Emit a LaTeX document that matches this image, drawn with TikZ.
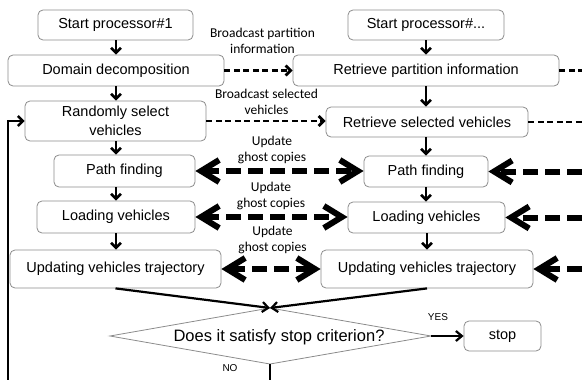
\documentclass[tikz,border=0pt]{standalone}
\usepackage{fontspec}
\setmainfont{Liberation Sans}
\newfontfamily\lblfont{Carlito}
\usetikzlibrary{arrows.meta}

\begin{document}
\begin{tikzpicture}[x=1pt,y=-1pt,
  box/.style={draw=black!45, line width=0.8pt, rounded corners=5pt, inner sep=0pt,
    font=\fontsize{14.5}{19}\selectfont, align=center},
  flow/.style={line width=2.6pt, -{Straight Barb[length=5pt,width=10pt]}},
  merge/.style={line width=2.2pt, -{Straight Barb[length=6pt,width=10pt]}},
  bcast/.style={line width=2.8pt, dash pattern=on 6pt off 3.5pt, -{Straight Barb[length=5pt,width=10pt]}},
  bcastout/.style={line width=2.8pt, dash pattern=on 6pt off 3.5pt},
  ghost/.style={line width=6pt, dash pattern=on 15pt off 7pt,
    {Straight Barb[length=18pt,width=22pt]}-{Straight Barb[length=18pt,width=22pt]}},
  ghostin/.style={line width=6pt, dash pattern=on 15pt off 7pt, -{Straight Barb[length=18pt,width=22pt]}},
  lbl/.style={font=\lblfont\fontsize{13.5}{16.5}\selectfont, align=center, inner sep=0pt},
  yn/.style={font=\fontsize{10}{12}\selectfont, inner sep=0pt},
]
\useasboundingbox (0,0) rectangle (582,380);
\clip (0,0) rectangle (582,380);

% processor #1
\node[box, minimum width=155pt, minimum height=30pt] (startL) at (115.5,25) {Start processor\#1};
\node[box, minimum width=216pt, minimum height=31pt] (domL) at (116,70.5) {Domain decomposition};
\node[box, minimum width=181pt, minimum height=40pt] (randL) at (115.5,121) {Randomly select\\vehicles};
\node[box, minimum width=141pt, minimum height=32pt] (pathL) at (124.5,171) {Path finding};
\node[box, minimum width=158pt, minimum height=32pt] (loadL) at (116,217) {Loading vehicles};
\node[box, minimum width=211pt, minimum height=38pt] (updL) at (115.5,269) {Updating vehicles trajectory};

% processor #...
\node[box, minimum width=156pt, minimum height=30pt] (startR) at (426,25) {Start processor\#...};
\node[box, minimum width=266pt, minimum height=31pt] (retR) at (426,70.5) {Retrieve partition information};
\node[box, minimum width=202pt, minimum height=30pt] (selR) at (427,122) {Retrieve selected vehicles};
\node[box, minimum width=124pt, minimum height=31pt] (pathR) at (426,171.5) {Path finding};
\node[box, minimum width=157pt, minimum height=31pt] (loadR) at (426.5,217.5) {Loading vehicles};
\node[box, minimum width=212pt, minimum height=38pt] (updR) at (427,269) {Updating vehicles trajectory};

\node[box, minimum width=77pt, minimum height=30pt] (stop) at (502.5,336) {stop};

% decision
\coordinate (diaN) at (270,308);
\coordinate (diaE) at (431,336);
\coordinate (diaS) at (270,364);
\coordinate (diaW) at (110,336);
\draw[black!45, line width=0.8pt] (diaN) -- (diaE) -- (diaS) -- (diaW) -- cycle;
\node[inner sep=0pt, font=\fontsize{16.5}{19}\selectfont] (dia) at (279,337) {Does it satisfy stop criterion?};

% vertical flow, processor #1
\draw[flow] (startL.south -| 116,0) -- (domL.north -| 116,0);
\draw[flow] (domL.south) -- (randL.north -| domL.south);
\draw[flow] (randL.south -| 116,0) -- (pathL.north -| 116,0);
\draw[flow] (pathL.south -| loadL.north) -- (loadL.north);
\draw[flow] (loadL.south) -- (updL.north -| loadL.south);

% vertical flow, processor #...
\draw[flow] (startR.south) -- (retR.north);
\draw[flow] (retR.south) -- (selR.north -| retR.south);
\draw[flow] (selR.south -| pathR.north) -- (pathR.north);
\draw[flow] (pathR.south) -- (loadR.north -| pathR.south);
\draw[flow] (loadR.south -| updR.north) -- (updR.north);

% broadcasts
\draw[bcast] (domL.east) -- (retR.west);
\draw[bcast] (randL.east) -- (randL.east -| selR.west);
\coordinate (outA) at (600,70.5);
\coordinate (outB) at (600,122);
\draw[bcastout] (retR.east) -- (outA);
\draw[bcastout] (selR.east) -- (outB);
\node[lbl] (lblA) at (262.5,41) {Broadcast partition\\information};
\node[lbl] (lblB) at (266.5,102) {Broadcast selected\\vehicles};

% ghost-copy exchanges
\draw[ghost] (pathL.east) -- (pathL.east -| pathR.west);
\draw[ghost] (loadL.east) -- (loadL.east -| loadR.west);
\draw[ghost] (updL.east) -- (updR.west);
\node[lbl] (lblC) at (272,150) {Update\\ghost copies};
\node[lbl] (lblD) at (271,196) {Update\\ghost copies};
\node[lbl] (lblE) at (272.5,240) {Update\\ghost copies};

\coordinate (inA) at (604,171.5);
\coordinate (inB) at (604,217.5);
\coordinate (inC) at (604,269);
\draw[ghostin] (inA) -- (pathR.east);
\draw[ghostin] (inB) -- (loadR.east);
\draw[ghostin] (inC) -- (updR.east);

% convergence and decision
\draw[merge] (updL.south) -- (diaN);
\draw[merge] (updR.south) -- (diaN);
\draw[merge] (diaE) -- (stop.west);
\node[yn] (yes) at (438,317) {YES};
\node[yn] (no) at (230,368) {NO};

% loop back
\coordinate (loopA) at (270,392);
\coordinate (loopB) at (8,392);
\draw[line width=2.5pt, -{Straight Barb[length=5pt,width=10pt]}]
  (diaS) -- (loopA) -- (loopB) |- (randL.west);
\end{tikzpicture}
\end{document}
